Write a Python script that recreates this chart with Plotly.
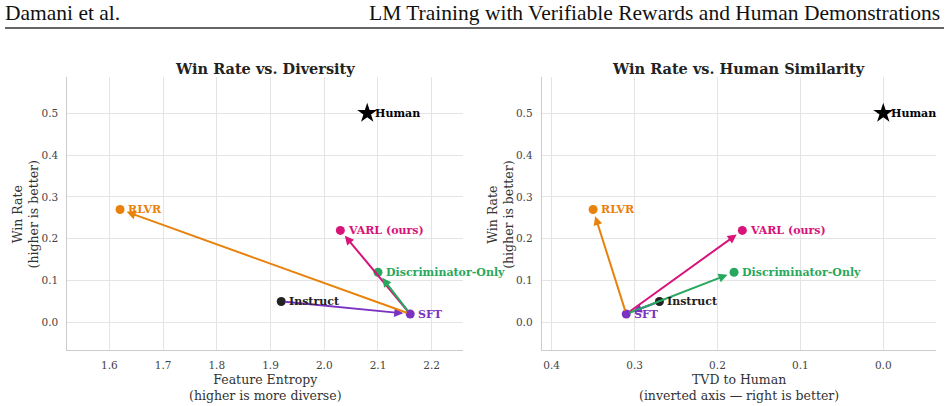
import plotly.graph_objects as go

# ---------------- data ----------------
methods = ["Instruct", "SFT", "RLVR", "Discriminator-Only", "VARL (ours)"]
feature_entropy = [1.92, 2.16, 1.62, 2.10, 2.03]
tvd_to_human = [0.27, 0.31, 0.35, 0.18, 0.17]
win_rate = [0.05, 0.02, 0.27, 0.12, 0.22]
colors = ["#222222", "#7B32C0", "#E8820C", "#28A85E", "#D8137A"]

human_entropy = 2.08
human_tvd = 0.0
human_win = 0.5

# arrows: (from, to, color)
arrows = [
    ("Instruct", "SFT", "#7B32C0"),
    ("SFT", "RLVR", "#E8820C"),
    ("SFT", "VARL (ours)", "#D8137A"),
    ("SFT", "Discriminator-Only", "#28A85E"),
]

left_ticks = [1.6, 1.7, 1.8, 1.9, 2.0, 2.1, 2.2]
right_ticks = [0.4, 0.3, 0.2, 0.1, 0.0]
y_ticks = [0.0, 0.1, 0.2, 0.3, 0.4, 0.5]

W, H = 948, 406


def px_x(p):
    return p / W


def px_y(p):
    return 1 - p / H


fig = go.Figure()

panels = [
    ("x", "y", feature_entropy, human_entropy),
    ("x2", "y2", tvd_to_human, human_tvd),
]

ann = []
for xa, ya, xs, hx in panels:
    fig.add_trace(go.Scatter(
        x=xs, y=win_rate, xaxis=xa, yaxis=ya, mode="markers",
        marker=dict(color=colors, size=9, line=dict(width=0)),
        showlegend=False, hoverinfo="skip"))
    fig.add_trace(go.Scatter(
        x=[hx], y=[human_win], xaxis=xa, yaxis=ya, mode="markers",
        marker=dict(color="black", size=15, symbol="star", line=dict(width=0)),
        showlegend=False, hoverinfo="skip"))
    idx = {m: i for i, m in enumerate(methods)}
    for a, b, c in arrows:
        ann.append(dict(
            x=xs[idx[b]], y=win_rate[idx[b]], ax=xs[idx[a]], ay=win_rate[idx[a]],
            xref=xa, yref=ya, axref=xa, ayref=ya, text="", showarrow=True,
            arrowhead=2, arrowsize=0.9, arrowwidth=2, arrowcolor=c,
            standoff=7, startstandoff=2))
    for i, m in enumerate(methods):
        ann.append(dict(
            x=xs[i], y=win_rate[i], xref=xa, yref=ya, text=m, showarrow=False,
            xanchor="left", yanchor="middle", xshift=6,
            font=dict(family="DejaVu Serif", size=11, color=colors[i], weight="bold")))
    ann.append(dict(
        x=hx, y=human_win, xref=xa, yref=ya, text="Human", showarrow=False,
        xanchor="left", yanchor="middle", xshift=6,
        font=dict(family="DejaVu Serif", size=11, color="black", weight="bold")))

# panel geometry (pixels)
L1, R1 = 67.3, 462.7
L2, R2 = 541.7, 936.0
TOP, BOT = 77.3, 350.0

title_font = dict(family="DejaVu Serif", size=14.5, color="#222222", weight="bold")
lab_font = dict(family="DejaVu Serif", size=12.5, color="#333333")

for (l, r, title, xlab) in [
    (L1, R1, "Win Rate vs. Diversity", "Feature Entropy<br>(higher is more diverse)"),
    (L2, R2, "Win Rate vs. Human Similarity", "TVD to Human<br>(inverted axis — right is better)"),
]:
    cx = (l + r) / 2
    ann.append(dict(x=px_x(cx), y=px_y(68), xref="paper", yref="paper", text=title,
                    showarrow=False, xanchor="center", yanchor="middle", font=title_font))
    ann.append(dict(x=px_x(cx), y=px_y(370), xref="paper", yref="paper", text=xlab,
                    showarrow=False, xanchor="center", yanchor="top", font=lab_font))
    ann.append(dict(x=px_x(l - 41.5), y=px_y((TOP + BOT) / 2 + 1), xref="paper", yref="paper",
                    text="Win Rate<br>(higher is better)", textangle=-90,
                    showarrow=False, xanchor="center", yanchor="middle", font=lab_font))

# header
hdr_font = dict(family="Liberation Serif", size=21.5, color="#111111")
ann.append(dict(x=px_x(3), y=px_y(13), xref="paper", yref="paper", text="Damani et al.",
                showarrow=False, xanchor="left", yanchor="middle", font=hdr_font))
ann.append(dict(x=px_x(942), y=px_y(13), xref="paper", yref="paper",
                text="LM Training with Verifiable Rewards and Human Demonstrations",
                showarrow=False, xanchor="right", yanchor="middle", font=hdr_font))

fig.add_shape(type="line", xref="paper", yref="paper",
              x0=px_x(5), x1=px_x(944), y0=px_y(28), y1=px_y(28),
              line=dict(color="#333333", width=1.5))

tick_font = dict(family="DejaVu Serif", size=10.5, color="#444444")
axis_common = dict(showgrid=True, gridcolor="#E4E4E4", gridwidth=1, zeroline=False,
                   showline=True, linecolor="#CCCCCC", linewidth=1, ticks="",
                   tickfont=tick_font, tickformat=".1f", fixedrange=True)

fig.update_layout(
    width=W, height=H, margin=dict(l=0, r=0, t=0, b=0),
    paper_bgcolor="white", plot_bgcolor="white",
    annotations=ann, showlegend=False,
    xaxis=dict(domain=[px_x(L1), px_x(R1)], range=[1.5218, 2.2577],
               tickvals=left_ticks, anchor="y", ticklabelstandoff=5, **axis_common),
    yaxis=dict(domain=[px_y(BOT), px_y(TOP)], range=[-0.066, 0.586],
               tickvals=y_ticks, anchor="x", ticklabelstandoff=6, **axis_common),
    xaxis2=dict(domain=[px_x(L2), px_x(R2)], range=[0.412, -0.0636],
                tickvals=right_ticks, anchor="y2", ticklabelstandoff=5, **axis_common),
    yaxis2=dict(domain=[px_y(BOT), px_y(TOP)], range=[-0.066, 0.586],
                tickvals=y_ticks, anchor="x2", ticklabelstandoff=6, **axis_common),
)

fig.write_html("out.html")
